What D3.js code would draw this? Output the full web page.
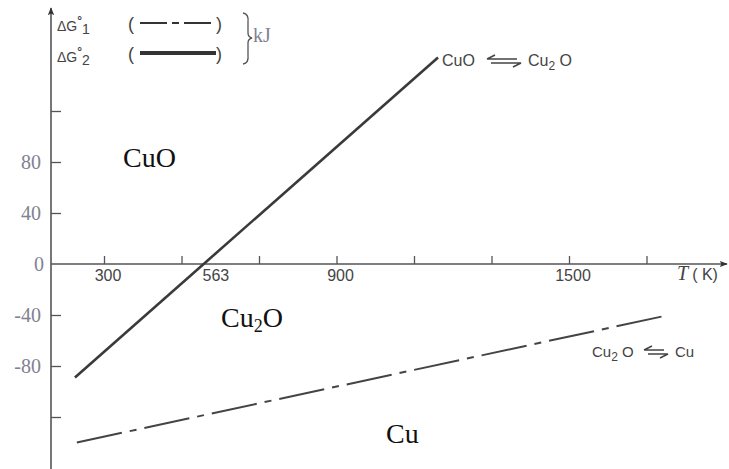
<!DOCTYPE html>
<html>
<head>
<meta charset="utf-8">
<title>CuO / Cu2O / Cu</title>
<script src="https://cdn.jsdelivr.net/npm/d3@7"></script>
<style>
  body { margin: 0; background: #fff; }
  svg { display: block; }
  .xlab { font-family: "Liberation Sans", Arial, sans-serif; font-size: 16px; fill: #444; }
  .ylab { font-family: "Liberation Serif", "Times New Roman", serif; font-size: 20px; fill: #7f8292; }
  .region { font-family: "Liberation Serif", "Times New Roman", serif; font-size: 28px; fill: #111; }
  .note { font-family: "Liberation Sans", Arial, sans-serif; fill: #444; }
</style>
</head>
<body>
<svg id="chart" width="729" height="469"></svg>
<script>
// data
var xTicks = [300, 500, 700, 900, 1100, 1300, 1500, 1700];
var xLabelled = [300, 900, 1500];
var yTicks = [120, 80, 40, 0, -40, -80, -120];
var yLabelled = [80, 40, 0, -40, -80];
var crossT = 563;

// ΔG°2 (solid): CuO <-> Cu2O
var temp2 = [225, 1162];
var dG2 = [-89, 162];
// ΔG°1 (dash-dot): Cu2O <-> Cu
var temp1 = [230, 1743];
var dG1 = [-140, -41];

var svg = d3.select("#chart");
var axisX0 = 51, axisX1 = 727, axisYtop = 8, axisYbot = 469;

var x = d3.scaleLinear().domain([300, 1500]).range([104, 569]);
var y = d3.scaleLinear().domain([0, 80]).range([264, 162]);

var ink = "#555";

svg.append("defs").append("marker")
    .attr("id", "arr")
    .attr("viewBox", "0 0 10 10")
    .attr("refX", 9).attr("refY", 5)
    .attr("markerWidth", 8).attr("markerHeight", 8)
    .attr("markerUnits", "userSpaceOnUse")
    .attr("orient", "auto")
    .append("path").attr("d", "M0,1 L10,5 L0,9 L2,5 Z").attr("fill", "#333");

// x axis
var gx = svg.append("g").attr("transform", "translate(0," + y(0) + ")")
    .call(d3.axisBottom(x).tickValues(xTicks).tickSize(-8).tickFormat(""));
gx.select(".domain").remove();
gx.selectAll(".tick line").attr("stroke", ink).attr("stroke-width", 1.3);
svg.append("line")
    .attr("x1", axisX0).attr("x2", axisX1)
    .attr("y1", y(0)).attr("y2", y(0))
    .attr("stroke", ink).attr("stroke-width", 1.6)
    .attr("marker-end", "url(#arr)");

svg.selectAll(".xl").data(xLabelled).enter().append("text")
    .attr("class", "xlab")
    .attr("x", function(d) { return x(d) + 4; })
    .attr("y", y(0) + 17)
    .attr("text-anchor", "middle")
    .text(function(d) { return d; });
svg.append("text").attr("class", "xlab")
    .attr("x", x(crossT) + 10).attr("y", y(0) + 17)
    .attr("text-anchor", "middle").text(crossT);

var tl = svg.append("text").attr("x", 677).attr("y", y(0) + 16);
tl.append("tspan").attr("font-family", "Liberation Serif, serif").attr("font-style", "italic")
    .attr("font-size", 20).attr("fill", "#444").text("T");
tl.append("tspan").attr("class", "note").attr("font-size", 16).attr("dx", 4).text("( K)");

// y axis
var gy = svg.append("g").attr("transform", "translate(" + axisX0 + ",0)")
    .call(d3.axisLeft(y).tickValues(yTicks.filter(function(d) { return d !== 0; })).tickSize(-10).tickFormat(""));
gy.select(".domain").remove();
gy.selectAll(".tick line").attr("stroke", ink).attr("stroke-width", 1.3);
svg.append("line")
    .attr("x1", axisX0).attr("x2", axisX0)
    .attr("y1", axisYbot).attr("y2", axisYtop)
    .attr("stroke", ink).attr("stroke-width", 1.6)
    .attr("marker-end", "url(#arr)");

svg.selectAll(".yl").data(yLabelled).enter().append("text")
    .attr("class", "ylab")
    .attr("x", function(d) { return d === 0 ? 44 : 41; })
    .attr("y", function(d) { return y(d) + 7; })
    .attr("text-anchor", "end")
    .text(function(d) { return d; });

// lines
var line = d3.line().x(function(d) { return x(d[0]); }).y(function(d) { return y(d[1]); });

svg.append("path")
    .datum(d3.zip(temp2, dG2))
    .attr("d", line)
    .attr("fill", "none").attr("stroke", "#3a3a3a").attr("stroke-width", 2.6);

svg.append("path")
    .datum(d3.zip(temp1, dG1))
    .attr("d", line)
    .attr("fill", "none").attr("stroke", "#444").attr("stroke-width", 2)
    .attr("stroke-dasharray", "46,8,7,8");

// legend
function dg(yy, sub) {
    var tx = svg.append("text").attr("class", "note").attr("x", 57).attr("y", yy).attr("font-size", 14);
    tx.append("tspan").text("ΔG");
    tx.append("tspan").attr("dy", -6).attr("font-size", 12).attr("font-weight", "bold").text("°");
    tx.append("tspan").attr("dy", 9).attr("font-size", 14).text(sub);
}
dg(31, "1");
dg(62, "2");

[23, 53].forEach(function(yy, i) {
    svg.append("text").attr("class", "note").attr("font-size", 18).attr("x", 128).attr("y", yy + 7).text("(");
    svg.append("text").attr("class", "note").attr("font-size", 18).attr("x", 216).attr("y", yy + 7).text(")");
    svg.append("line").attr("x1", 140).attr("x2", 216).attr("y1", yy).attr("y2", yy)
        .attr("stroke", "#333").attr("stroke-width", i === 0 ? 1.8 : 3.8)
        .attr("stroke-dasharray", i === 0 ? "27,5,7,5" : null);
});
svg.append("path")
    .attr("d", "M243,13 Q249,14 248,22 L248,33 Q248,37 252,38 Q248,39 248,43 L248,55 Q249,63 243,64")
    .attr("fill", "none").attr("stroke", "#555").attr("stroke-width", 1.3);
svg.append("text").attr("class", "ylab").attr("font-size", 19).attr("x", 253).attr("y", 42).text("kJ");

// reaction notes
function harpoons(x0, yy, w) {
    svg.append("path")
        .attr("d", "M" + x0 + "," + (yy - 2) + " H" + (x0 + w - 4) + " M" + x0 + "," + (yy - 2) + " l8,-4"
            + " M" + (x0 + 4) + "," + (yy + 2) + " H" + (x0 + w) + " l-8,4")
        .attr("fill", "none").attr("stroke", "#444").attr("stroke-width", 1.4);
}
function cu2o(tx) {
    tx.append("tspan").text("Cu");
    tx.append("tspan").attr("dy", 4).attr("font-size", 12).text("2");
    tx.append("tspan").attr("dy", -4).text(" O");
}
svg.append("text").attr("class", "note").attr("font-size", 16).attr("x", 442).attr("y", 66).text("CuO");
harpoons(487, 61, 34);
cu2o(svg.append("text").attr("class", "note").attr("font-size", 16).attr("x", 528).attr("y", 66));

cu2o(svg.append("text").attr("class", "note").attr("font-size", 15).attr("x", 592).attr("y", 357));
harpoons(644, 352, 24);
svg.append("text").attr("class", "note").attr("font-size", 15).attr("x", 675).attr("y", 357).text("Cu");

// region labels
svg.append("text").attr("class", "region").attr("x", 123).attr("y", 167).text("CuO");
var r2 = svg.append("text").attr("class", "region").attr("x", 221).attr("y", 327);
r2.append("tspan").text("Cu");
r2.append("tspan").attr("dy", 5).attr("font-size", 18).text("2");
r2.append("tspan").attr("dy", -5).text("O");
svg.append("text").attr("class", "region").attr("x", 386).attr("y", 443).text("Cu");
</script>
</body>
</html>
